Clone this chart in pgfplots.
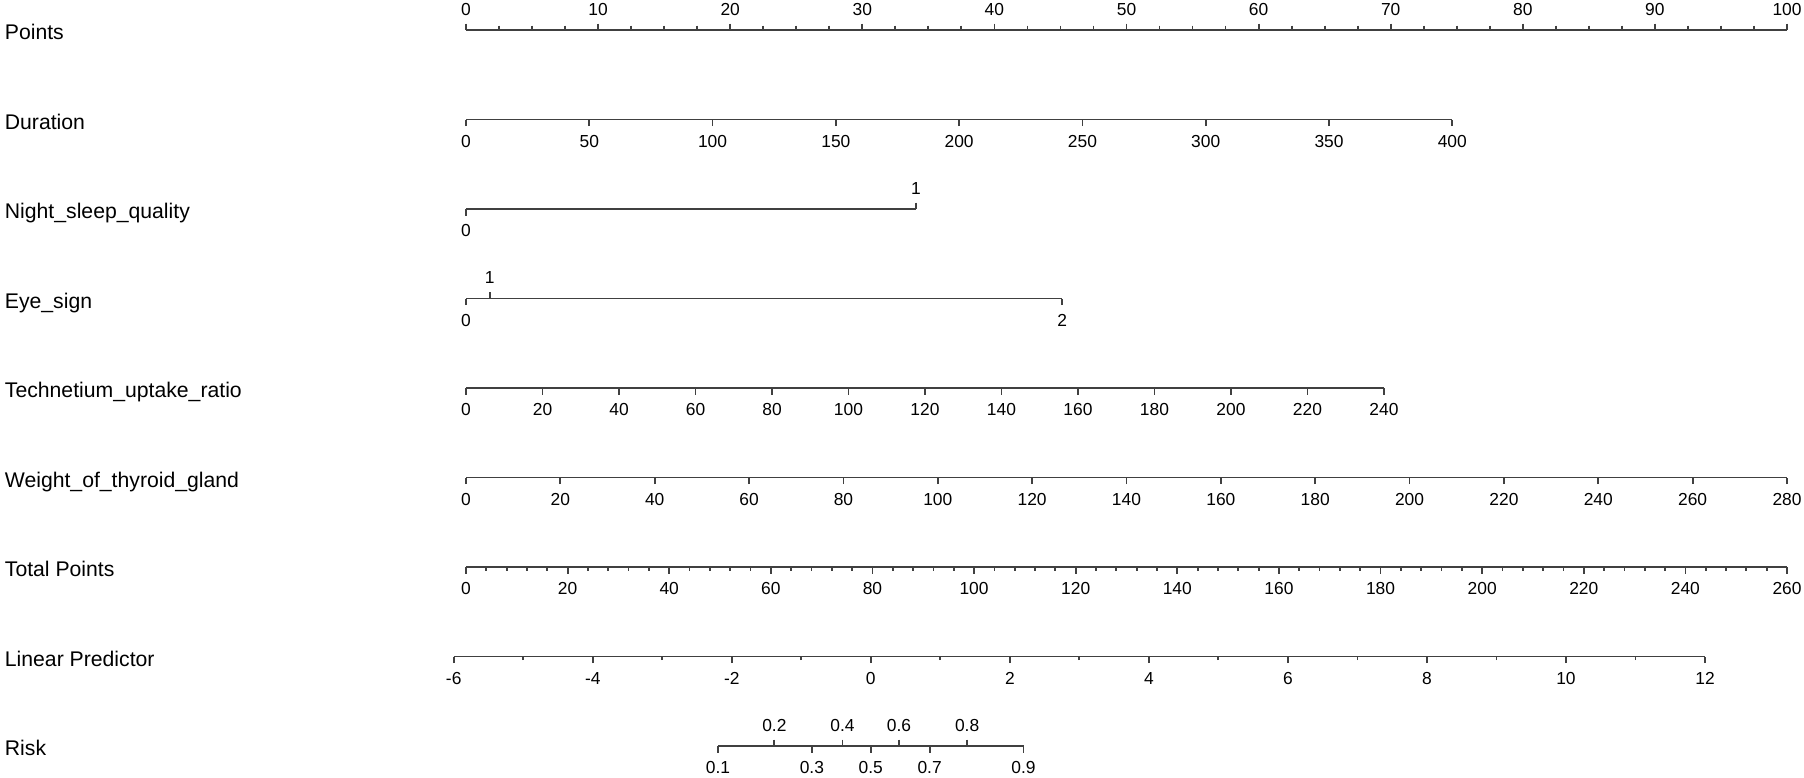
\documentclass[border=0pt]{standalone}
\usepackage{pgfplots}
\pgfplotsset{compat=1.18}
\usepackage{fontspec}
\setmainfont{Liberation Sans}

\newcommand\ticklab{\fontsize{8.7}{10}\selectfont}
\newcommand\namelab{\fontsize{10.6}{12}\selectfont}

\pgfplotsset{
  nomo/.style={
    scale only axis, height=1pt, ymin=0, ymax=1,
    axis y line=none, enlargelimits=false, clip=false,
    tick align=outside,
    major tick length=3.25pt, minor tick length=1.75pt,
    tick label style={font=\ticklab, inner sep=0pt},
    /pgf/number format/assume math mode=true,
    /pgf/number format/fixed,
  },
  noarrow/.style={
    x axis line style={-, line width=0.9pt, draw=black!75},
    every outer x axis line/.append style={-},
    every inner x axis line/.append style={-},
    every tick/.append style={line width=0.9pt, draw=black!75},
  },
  % pgfplots already moves the labels out by the tick length
  down/.style={axis x line=bottom, nomo, noarrow, anchor=south west,
    xticklabel style={anchor=center, yshift=-7.75pt}},
  up/.style={axis x line=top, nomo, noarrow, anchor=north west,
    xticklabel style={anchor=center, yshift=7pt}},
}

\begin{document}
\begin{tikzpicture}
\useasboundingbox (0,0) rectangle (902pt,-388.5pt);

% variable names
\foreach \y/\t in {-15/Points, -59.75/Duration, -104.5/Night\_sleep\_quality,
  -149.25/Eye\_sign, -194/Technetium\_uptake\_ratio, -238.75/Weight\_of\_thyroid\_gland,
  -283.5/Total Points, -328.25/Linear Predictor, -373/Risk}
  \node[anchor=base west, inner sep=0pt, font=\namelab] at (2.25pt,\y pt-4.75pt) {\t};

% Points
\begin{axis}[up, at={(233pt,-15pt)}, width=660.5pt, xmin=0, xmax=100,
  xtick={0,10,...,100}, minor x tick num=3, minor tick length=2.25pt]
\end{axis}

% Duration
\begin{axis}[down, at={(233pt,-59.75pt)}, width=493.15pt, xmin=0, xmax=400,
  xtick={0,50,...,400}]
\end{axis}

% Night_sleep_quality
\begin{axis}[down, at={(233pt,-104.5pt)}, width=225pt, xmin=0, xmax=1, xtick={0}]
\end{axis}
\begin{axis}[up, at={(233pt,-104.5pt)}, width=225pt, xmin=0, xmax=1, xtick={1}]
\end{axis}

% Eye_sign (1 sits just right of 0)
\begin{axis}[down, at={(233pt,-149.25pt)}, width=298.15pt, xmin=0, xmax=2,
  xtick={0,2}, xticklabels={0,2}]
\end{axis}
\begin{axis}[up, at={(233pt,-149.25pt)}, width=298.15pt, xmin=0, xmax=2,
  xtick={0.0795}, xticklabels={1}]
\end{axis}

% Technetium_uptake_ratio
\begin{axis}[down, at={(233pt,-194pt)}, width=459pt, xmin=0, xmax=240,
  xtick={0,20,...,240}]
\end{axis}

% Weight_of_thyroid_gland
\begin{axis}[down, at={(233pt,-238.75pt)}, width=660.5pt, xmin=0, xmax=280,
  xtick={0,20,...,280}]
\end{axis}

% Total Points
\begin{axis}[down, at={(233pt,-283.5pt)}, width=660.5pt, xmin=0, xmax=260,
  xtick={0,20,...,260}, minor x tick num=4]
\end{axis}

% Linear Predictor
\begin{axis}[down, at={(226.85pt,-328.25pt)}, width=625.65pt, xmin=-6, xmax=12,
  xtick={-6,-4,...,12}, minor x tick num=1]
\end{axis}

% Risk (positions on the linear predictor scale)
\begin{axis}[down, at={(359pt,-373pt)}, width=152.75pt, xmin=-2.1972, xmax=2.1972,
  xtick={-2.1972,-0.8473,0,0.8473,2.1972}, xticklabels={0.1,0.3,0.5,0.7,0.9}]
\end{axis}
\begin{axis}[up, at={(359pt,-373pt)}, width=152.75pt, xmin=-2.1972, xmax=2.1972,
  xtick={-1.3863,-0.4055,0.4055,1.3863}, xticklabels={0.2,0.4,0.6,0.8}]
\end{axis}
\end{tikzpicture}
\end{document}
